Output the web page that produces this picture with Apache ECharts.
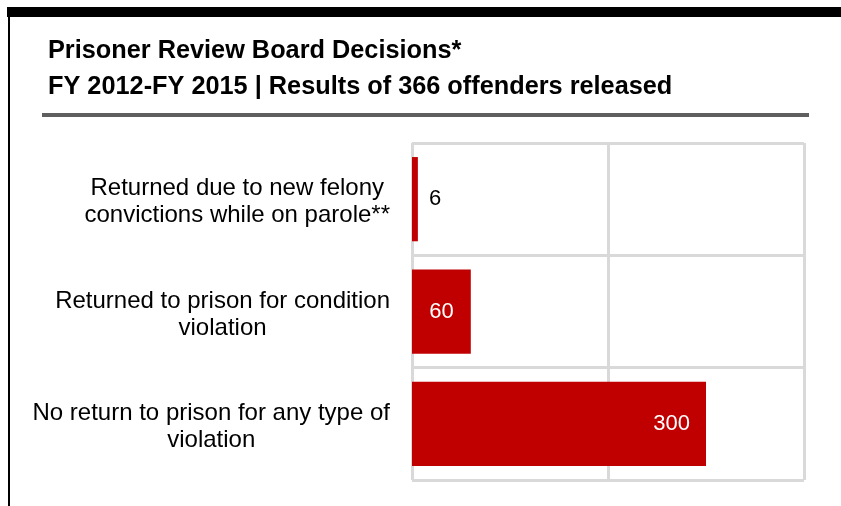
<!DOCTYPE html>
<html>
<head>
<meta charset="utf-8">
<script src="https://cdn.jsdelivr.net/npm/echarts@6/dist/echarts.min.js"></script>
<style>
  html, body { margin: 0; padding: 0; background: #fff; }
  #chart { width: 841px; height: 506px; }
</style>
</head>
<body>
<div id="chart"></div>
<script>
// categories top to bottom
var categories = [
  'Returned due to new felony\nconvictions while on parole**',
  'Returned to prison for condition\nviolation',
  'No return to prison for any type of\nviolation'
];
var offenders = [6, 60, 300];
var axisTicks = [0, 200, 400];

var titleText = 'Prisoner Review Board Decisions*';
var subtitleText = 'FY 2012-FY 2015 | Results of 366 offenders released';

var chart = echarts.init(document.getElementById('chart'));

// label placement per bar: tiny bar gets label outside
var labelSetup = [
  { position: 'right', color: '#000', distance: 11 },
  { position: 'inside', color: '#fff' },
  { position: 'insideRight', color: '#fff', distance: 16 }
];

var headStyle = {
  fontFamily: 'Liberation Sans',
  fontWeight: 'bold',
  fontSize: 25.3,
  color: '#000'
};

chart.setOption({
  animation: false,
  title: [
    { text: titleText, left: 43, top: 34, textStyle: headStyle },
    { text: subtitleText, left: 43, top: 70, textStyle: headStyle }
  ],
  graphic: [
    { type: 'rect', shape: { x: 7, y: 7, width: 834, height: 10 }, style: { fill: '#000' } },
    { type: 'rect', shape: { x: 8, y: 17, width: 2, height: 489 }, style: { fill: '#000' } },
    { type: 'rect', shape: { x: 42, y: 113, width: 767, height: 4 }, style: { fill: '#5f5f5f' } }
  ],
  grid: {
    left: 412,
    right: 37,
    top: 143,
    bottom: 26,
    containLabel: false
  },
  xAxis: {
    type: 'value',
    min: axisTicks[0],
    max: axisTicks[axisTicks.length - 1],
    interval: axisTicks[1] - axisTicks[0],
    axisLine: { show: false },
    axisTick: { show: false },
    axisLabel: { show: false },
    splitLine: { lineStyle: { color: '#d9d9d9', width: 3 } }
  },
  yAxis: {
    type: 'category',
    inverse: true,
    data: categories,
    axisLine: { show: false },
    axisTick: { show: false },
    splitLine: { show: true, lineStyle: { color: '#d9d9d9', width: 3 } },
    axisLabel: {
      margin: 22,
      align: 'right',
      lineHeight: 27,
      padding: [6, 0, 0, 0],
      formatter: function (value) {
        return value.split('\n').map(function (line) {
          return '{c|' + line + '}';
        }).join('\n');
      },
      rich: {
        c: {
          align: 'center',
          fontFamily: 'Liberation Sans',
          fontSize: 24,
          lineHeight: 27,
          color: '#000'
        }
      }
    }
  },
  series: [{
    type: 'bar',
    barCategoryGap: '25%',
    itemStyle: { color: '#c00000' },
    data: offenders.map(function (v, i) {
      return {
        value: v,
        label: {
          show: true,
          position: labelSetup[i].position,
          distance: labelSetup[i].distance,
          color: labelSetup[i].color,
          fontFamily: 'Liberation Sans',
          fontSize: 22
        }
      };
    })
  }]
});
</script>
</body>
</html>
